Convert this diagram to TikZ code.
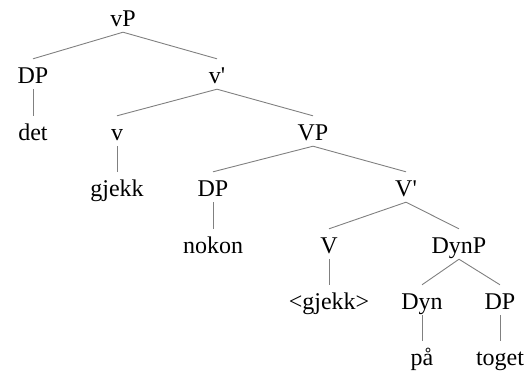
\documentclass[tikz,border=0pt]{standalone}
\usepackage{fontspec}
\setmainfont{Liberation Serif}
\begin{document}
\begin{tikzpicture}[x=1pt,y=-1pt,
  lbl/.style={anchor=base,inner xsep=0pt,inner ysep=0pt,text height=24pt,text depth=6pt,font=\fontsize{24}{28}\selectfont},
  edge/.style={draw={rgb,255:red,128;green,128;blue,128},line width=0.9pt}]
\useasboundingbox (0,0) rectangle (529,380);
\node[lbl] (vP) at (123,26) {vP};
\node[lbl] (DP1) at (33,83) {DP};
\node[lbl] (det) at (33,140) {det};
\node[lbl] (vbar) at (217,83) {v\textquotesingle};
\node[lbl] (v) at (117,140) {v};
\node[lbl] (gjekk) at (117,196) {gjekk};
\node[lbl] (VP) at (313,140) {VP};
\node[lbl] (DP2) at (213,196) {DP};
\node[lbl] (nokon) at (213,253) {nokon};
\node[lbl] (Vbar) at (406,196) {V\textquotesingle};
\node[lbl] (V) at (329,253) {V};
\node[lbl] (gjekk2) at (329,309) {<gjekk>};
\node[lbl] (DynP) at (459,253) {DynP};
\node[lbl] (Dyn) at (422,309) {Dyn};
\node[lbl] (paa) at (422,365) {på};
\node[lbl] (DP3) at (500,309) {DP};
\node[lbl] (toget) at (500,365) {toget};
\draw[edge] (vP.south) -- (DP1.north);
\draw[edge] (vP.south) -- (vbar.north);
\draw[edge] (DP1.south) -- (det.north);
\draw[edge] (vbar.south) -- (v.north);
\draw[edge] (vbar.south) -- (VP.north);
\draw[edge] (v.south) -- (gjekk.north);
\draw[edge] (VP.south) -- (DP2.north);
\draw[edge] (VP.south) -- (Vbar.north);
\draw[edge] (DP2.south) -- (nokon.north);
\draw[edge] (Vbar.south) -- (V.north);
\draw[edge] (Vbar.south) -- (DynP.north);
\draw[edge] (V.south) -- (gjekk2.north);
\draw[edge] (DynP.south) -- (Dyn.north);
\draw[edge] (DynP.south) -- (DP3.north);
\draw[edge] (Dyn.south) -- (paa.north);
\draw[edge] (DP3.south) -- (toget.north);
\end{tikzpicture}
\end{document}
